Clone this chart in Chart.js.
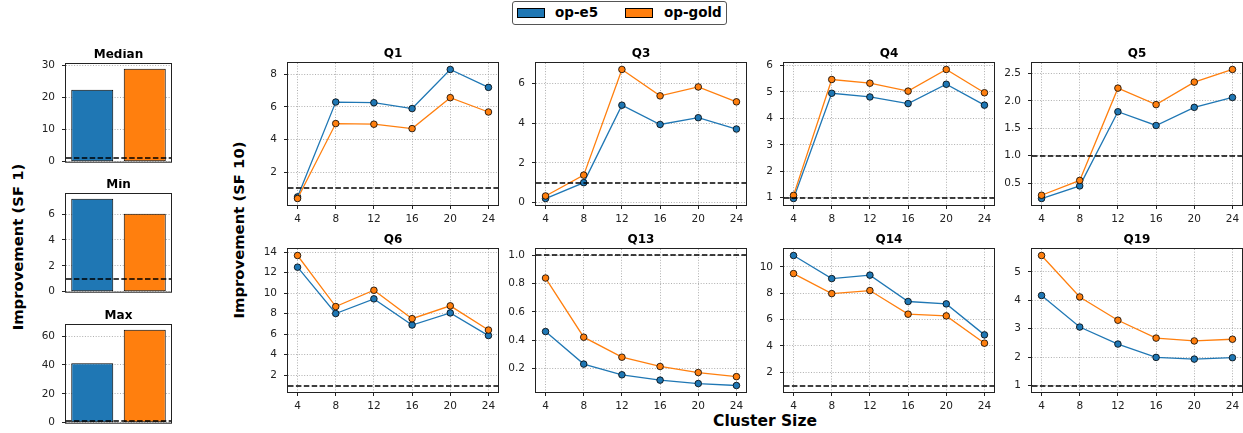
<!DOCTYPE html>
<html><head><meta charset="utf-8">
<script src="https://cdn.jsdelivr.net/npm/chart.js@4.4.0/dist/chart.umd.min.js"></script>
<style>
html,body{margin:0;padding:0;background:#fff;overflow:hidden;width:1243px;height:433px;}
#root{position:relative;width:1243px;height:433px;overflow:hidden;font-family:"DejaVu Sans",sans-serif;}
canvas{position:absolute;}
.lbl{position:absolute;font-weight:bold;color:#000;white-space:nowrap;font-family:"DejaVu Sans",sans-serif;}
.rot{transform:translate(-50%,-50%) rotate(-90deg);}
#legend{position:absolute;left:512px;top:1px;width:213px;height:22px;border:1px solid #555;border-radius:3px;background:#fff;}
.patch{position:absolute;top:6px;width:26px;height:8px;border:1px solid #000;}
.ltxt{position:absolute;top:2px;font-size:13.5px;font-weight:bold;line-height:16px;}
</style></head><body><div id="root">
<div id="legend">
  <div class="patch" style="left:4px;background:#1f77b4"></div><div class="ltxt" style="left:42px">op-e5</div>
  <div class="patch" style="left:112px;background:#ff7f0e"></div><div class="ltxt" style="left:151px">op-gold</div>
</div>
<div class="lbl rot" style="left:17px;top:247px;font-size:14.8px;">Improvement (SF 1)</div>
<div class="lbl rot" style="left:238px;top:230px;font-size:14.8px;">Improvement (SF 10)</div>
<div class="lbl" style="left:765px;top:421px;font-size:15.5px;transform:translate(-50%,-50%);">Cluster Size</div>
</div>
<script>
// ---- data ----
const clusterSizes = [4, 8, 12, 16, 20, 24];
const seriesNames = ['op-e5', 'op-gold'];

const q1E5   = [0.48, 6.30, 6.26, 5.90, 8.30, 7.20];
const q1Gold = [0.38, 4.98, 4.94, 4.67, 6.57, 5.69];
const q3E5   = [0.20, 1.00, 4.90, 3.93, 4.27, 3.70];
const q3Gold = [0.33, 1.38, 6.70, 5.37, 5.82, 5.07];
const q4E5   = [0.97, 4.95, 4.81, 4.56, 5.29, 4.50];
const q4Gold = [1.09, 5.47, 5.33, 5.03, 5.85, 4.97];
const q5E5   = [0.22, 0.45, 1.80, 1.55, 1.88, 2.06];
const q5Gold = [0.28, 0.55, 2.23, 1.93, 2.34, 2.57];
const q6E5   = [12.54, 8.02, 9.45, 6.90, 8.08, 5.87];
const q6Gold = [13.68, 8.70, 10.29, 7.52, 8.77, 6.41];
const q13E5   = [0.46, 0.229, 0.153, 0.115, 0.091, 0.077];
const q13Gold = [0.84, 0.42, 0.278, 0.212, 0.169, 0.14];
const q14E5   = [10.86, 9.11, 9.37, 7.37, 7.19, 4.84];
const q14Gold = [9.49, 7.97, 8.20, 6.41, 6.28, 4.21];
const q19E5   = [4.17, 3.06, 2.46, 1.99, 1.93, 1.98];
const q19Gold = [5.58, 4.12, 3.30, 2.67, 2.57, 2.63];

const medianVals = [22.5, 29.06];
const minVals    = [7.19, 6.03];
const maxVals    = [41.2, 64.4];

const ticksQ1  = [2, 4, 6, 8];
const ticksQ3  = [0, 2, 4, 6];
const ticksQ4  = [1, 2, 3, 4, 5, 6];
const ticksQ5  = [0.5, 1.0, 1.5, 2.0, 2.5];
const ticksQ6  = [2, 4, 6, 8, 10, 12, 14];
const ticksQ13 = [0.2, 0.4, 0.6, 0.8, 1.0];
const ticksQ14 = [2, 4, 6, 8, 10];
const ticksQ19 = [1, 2, 3, 4, 5];
const ticksMedian = [0, 10, 20, 30];
const ticksMin    = [0, 2, 4, 6];
const ticksMax    = [0, 20, 40, 60];

const baseline = 1;

// ---- styles ----
const BLUE = '#1f77b4', ORANGE = '#ff7f0e';
const FONT = 'DejaVu Sans';
const GRID = '#9a9a9a';
const TICKC = '#222';
const root = document.getElementById('root');

const YW = 40, TH = 16, XH = 24, RP = 10;

const refLinePlugin = {
  id: 'refLine',
  afterDatasetsDraw(chart) {
    const {ctx, chartArea: a, scales: {y}} = chart;
    const py = Math.round(y.getPixelForValue(baseline));
    ctx.save();
    ctx.beginPath();
    ctx.rect(a.left, a.top, a.width, a.height);
    ctx.clip();
    ctx.beginPath();
    ctx.setLineDash([5.5, 2.4]);
    ctx.lineWidth = 1.5;
    ctx.strokeStyle = '#000';
    ctx.moveTo(a.left, py);
    ctx.lineTo(a.right, py);
    ctx.stroke();
    ctx.restore();
  }
};
const framePlugin = {
  id: 'frame',
  afterDraw(chart) {
    const {ctx, chartArea: a} = chart;
    ctx.save();
    ctx.lineWidth = 1;
    ctx.strokeStyle = '#222';
    ctx.strokeRect(a.left - 0.5, a.top - 0.5, a.width + 1, a.height + 1);
    ctx.restore();
  }
};

function titleOpts(text) {
  return {display: true, text, color: '#000', fullSize: false,
    font: {family: FONT, size: 12, weight: 'bold', lineHeight: 1},
    padding: {top: 0, bottom: 3}};
}

function yScale(min, max, ticks, dec) {
  return {
    type: 'linear', min, max,
    afterBuildTicks: s => { s.ticks = ticks.map(v => ({value: v})); },
    afterFit: s => { s.width = YW; },
    ticks: {color: TICKC, font: {family: FONT, size: 10.5}, padding: 7,
      callback: v => dec ? Number(v).toFixed(dec) : String(v)},
    grid: {color: GRID, lineWidth: 0.8, tickColor: '#222', tickLength: 4, tickWidth: 1},
    border: {display: false, dash: [1, 1.7]}
  };
}

// create chart, then size/position canvas so its plot area lands on (px,py,pw,ph)
function place(makeCfg, px, py, pw, ph, extraW, extraH) {
  const c = document.createElement('canvas');
  let w = YW + pw + extraW, h = TH + ph + extraH;
  c.width = w; c.height = h;
  root.appendChild(c);
  let chart = new Chart(c, makeCfg());
  let a = chart.chartArea;
  const dw = Math.round(pw - (a.right - a.left)), dh = Math.round(ph - (a.bottom - a.top));
  if (dw || dh) {
    chart.destroy();
    w += dw; h += dh;
    c.width = w; c.height = h;
    chart = new Chart(c, makeCfg());
    a = chart.chartArea;
  }
  c.style.width = w + 'px'; c.style.height = h + 'px';
  c.style.left = Math.round(px - a.left) + 'px';
  c.style.top = Math.round(py - a.top) + 'px';
}

function linePanel(title, e5, gold, ticks, dec, px, py, pw, ph) {
  const all = e5.concat(gold, [baseline]);
  const lo = Math.min(...all), hi = Math.max(...all), pad = 0.05 * (hi - lo);
  const xlo = Math.min(...clusterSizes), xhi = Math.max(...clusterSizes), xpad = 0.05 * (xhi - xlo);
  const ds = (name, vals, col, order) => ({
    label: name, data: clusterSizes.map((x, i) => ({x, y: vals[i]})),
    borderColor: col, backgroundColor: col, borderWidth: 1.3,
    pointRadius: 3.3, pointBackgroundColor: col, pointBorderColor: '#000', pointBorderWidth: 0.8,
    tension: 0, order
  });
  place(() => ({
    type: 'line',
    data: {datasets: [ds(seriesNames[0], e5, BLUE, 2), ds(seriesNames[1], gold, ORANGE, 1)]},
    options: {
      responsive: false, animation: false, devicePixelRatio: 1,
      layout: {padding: {left: 0, right: RP, top: 0, bottom: 0}},
      plugins: {legend: {display: false}, tooltip: {enabled: false}, title: titleOpts(title)},
      scales: {
        x: {
          type: 'linear', min: xlo - xpad, max: xhi + xpad,
          afterBuildTicks: s => { s.ticks = clusterSizes.map(v => ({value: v})); },
          afterFit: s => { s.height = XH; },
          ticks: {color: TICKC, font: {family: FONT, size: 10.5}, padding: 4, maxRotation: 0, autoSkip: false},
          grid: {color: GRID, lineWidth: 0.8, tickColor: '#222', tickLength: 4, tickWidth: 1},
          border: {display: false, dash: [1, 1.7]}
        },
        y: yScale(lo - pad, hi + pad, ticks, dec)
      }
    },
    plugins: [refLinePlugin, framePlugin]
  }), px, py, pw, ph, RP, XH);
}

function barPanel(title, vals, ticks, px, py, pw, ph) {
  const hi = Math.max(...vals, baseline);
  place(() => ({
    type: 'bar',
    data: {labels: seriesNames, datasets: [{
      data: vals, backgroundColor: [BLUE, ORANGE], borderColor: '#000', borderWidth: 1,
      borderSkipped: false, categoryPercentage: 1, barPercentage: 0.8
    }]},
    options: {
      responsive: false, animation: false, devicePixelRatio: 1,
      layout: {padding: {left: 0, right: 6, top: 0, bottom: 9}},
      plugins: {legend: {display: false}, tooltip: {enabled: false}, title: titleOpts(title)},
      scales: {
        x: {type: 'category', display: false},
        y: yScale(0, hi * 1.05, ticks, 0)
      }
    },
    plugins: [refLinePlugin, framePlugin]
  }), px, py, pw, ph, 6, 9);
}

barPanel('Median', medianVals, ticksMedian, 66, 64, 105, 98);
barPanel('Min', minVals, ticksMin, 66, 194, 105, 98);
barPanel('Max', maxVals, ticksMax, 66, 325, 105, 98);

const colX = [288, 536, 784, 1032];
const PW = 210;
linePanel('Q1', q1E5, q1Gold, ticksQ1, 0, colX[0], 63, PW, 142);
linePanel('Q3', q3E5, q3Gold, ticksQ3, 0, colX[1], 63, PW, 142);
linePanel('Q4', q4E5, q4Gold, ticksQ4, 0, colX[2], 63, PW, 142);
linePanel('Q5', q5E5, q5Gold, ticksQ5, 1, colX[3], 63, PW, 142);
linePanel('Q6', q6E5, q6Gold, ticksQ6, 0, colX[0], 249, PW, 143);
linePanel('Q13', q13E5, q13Gold, ticksQ13, 1, colX[1], 249, PW, 143);
linePanel('Q14', q14E5, q14Gold, ticksQ14, 0, colX[2], 249, PW, 143);
linePanel('Q19', q19E5, q19Gold, ticksQ19, 0, colX[3], 249, PW, 143);
</script>
</body></html>
